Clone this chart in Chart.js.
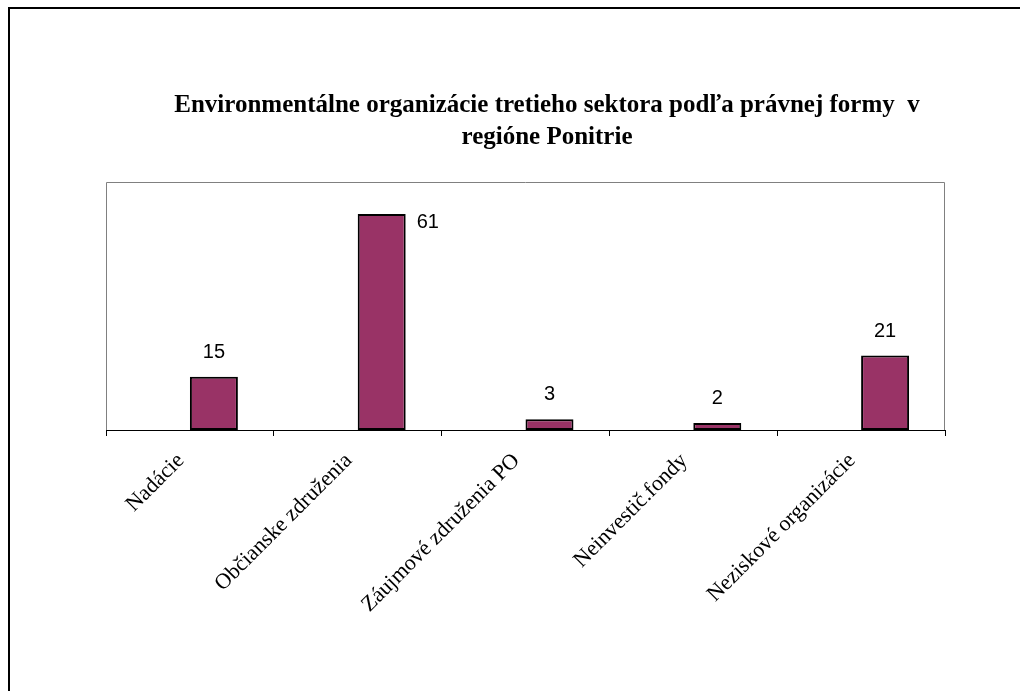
<!DOCTYPE html>
<html>
<head>
<meta charset="utf-8">
<title>Environmentálne organizácie</title>
<script src="https://cdn.jsdelivr.net/npm/chart.js@4"></script>
<style>
  body{margin:0;background:#fff;}
  #wrap{width:1020px;height:691px;}
</style>
</head>
<body>
<div id="wrap"><canvas id="myChart" width="1020" height="691"></canvas></div>
<script>
'use strict';
// chart data
const categories=['Nadácie','Občianske združenia','Záujmové združenia PO','Neinvestič.fondy','Neziskové organizácie'];
const counts=[15,61,3,2,21];
const emptySeries=[null,null,null,null,null]; // excel had a second (empty) series
const titleLines=['Environmentálne organizácie tretieho sektora podľa právnej formy  v','regióne Ponitrie'];
const yMin=0;
const yMax=70;

// outer frame + plot box
const framePlugin={
  id:'frame',
  beforeDraw(chart){
    let ctx=chart.ctx;
    let a=chart.chartArea;
    ctx.save();
    ctx.fillStyle='#fff';
    ctx.fillRect(0,0,chart.width,chart.height);
    ctx.strokeStyle='#000';
    ctx.lineWidth=2;
    ctx.beginPath();
    ctx.moveTo(9,chart.height+2);
    ctx.lineTo(9,8);
    ctx.lineTo(chart.width+2,8);
    ctx.stroke();
    ctx.strokeStyle='#808080';
    ctx.lineWidth=1;
    ctx.beginPath();
    ctx.moveTo(a.left+0.5,a.bottom);
    ctx.lineTo(a.left+0.5,a.top+0.5);
    ctx.lineTo(a.right-0.5,a.top+0.5);
    ctx.lineTo(a.right-0.5,a.bottom);
    ctx.stroke();
    ctx.restore();
  }
};

// title drawn by hand so it can sit off-center like the original
const titlePlugin={
  id:'manualTitle',
  afterDraw(chart){
    let ctx=chart.ctx;
    ctx.save();
    ctx.font='bold 25px "Liberation Serif", "Times New Roman", serif';
    ctx.fillStyle='#000';
    ctx.textAlign='center';
    ctx.textBaseline='alphabetic';
    for (let i=0;i<titleLines.length;i++){
      ctx.fillText(titleLines[i],547,112+i*32);
    }
    ctx.restore();
  }
};

// value labels above bars (to the right when there is no room)
const valuePlugin={
  id:'values',
  afterDatasetsDraw(chart){
    let ctx=chart.ctx;
    let meta=chart.getDatasetMeta(1);
    ctx.save();
    ctx.font='20px "Liberation Sans", Arial, sans-serif';
    ctx.fillStyle='#000';
    ctx.textBaseline='alphabetic';
    meta.data.forEach(function(bar,i){
      let txt=String(counts[i]);
      let y=bar.y-19;
      if (y-15<chart.chartArea.top){
        ctx.textAlign='left';
        ctx.fillText(txt,bar.x+bar.width/2+11,bar.y+14);
      } else {
        ctx.textAlign='center';
        ctx.fillText(txt,bar.x,y);
      }
    });
    ctx.restore();
  }
};

let ctx=document.getElementById('myChart').getContext('2d');
let chart=new Chart(ctx,{
  type:'bar',
  data:{
    labels:categories,
    datasets:[{
      label:'',
      data:emptySeries,
      backgroundColor:'#993366'
    },{
      label:'Počet',
      data:counts,
      backgroundColor:'#993366',
      borderColor:'#000',
      borderWidth:2,
      borderSkipped:false
    }]
  },
  options:{
    responsive:false,
    animation:false,
    categoryPercentage:0.572,
    barPercentage:1,
    layout:{padding:{left:106,right:75,top:182,bottom:0}},
    plugins:{
      legend:{display:false},
      title:{display:false},
      tooltip:{enabled:false}
    },
    scales:{
      x:{
        offset:true,
        grid:{
          offset:true,
          drawOnChartArea:false,
          drawTicks:true,
          tickLength:6,
          color:'#000'
        },
        border:{color:'#000',width:1},
        ticks:{
          minRotation:45,
          maxRotation:45,
          padding:12,
          labelOffset:-9,
          color:'#000',
          font:{family:'"Liberation Serif", "Times New Roman", serif',size:22}
        },
        afterFit(scale){ scale.height=261; }
      },
      y:{
        display:false,
        min:yMin,
        max:yMax
      }
    }
  },
  plugins:[framePlugin,titlePlugin,valuePlugin]
});
</script>
</body>
</html>
